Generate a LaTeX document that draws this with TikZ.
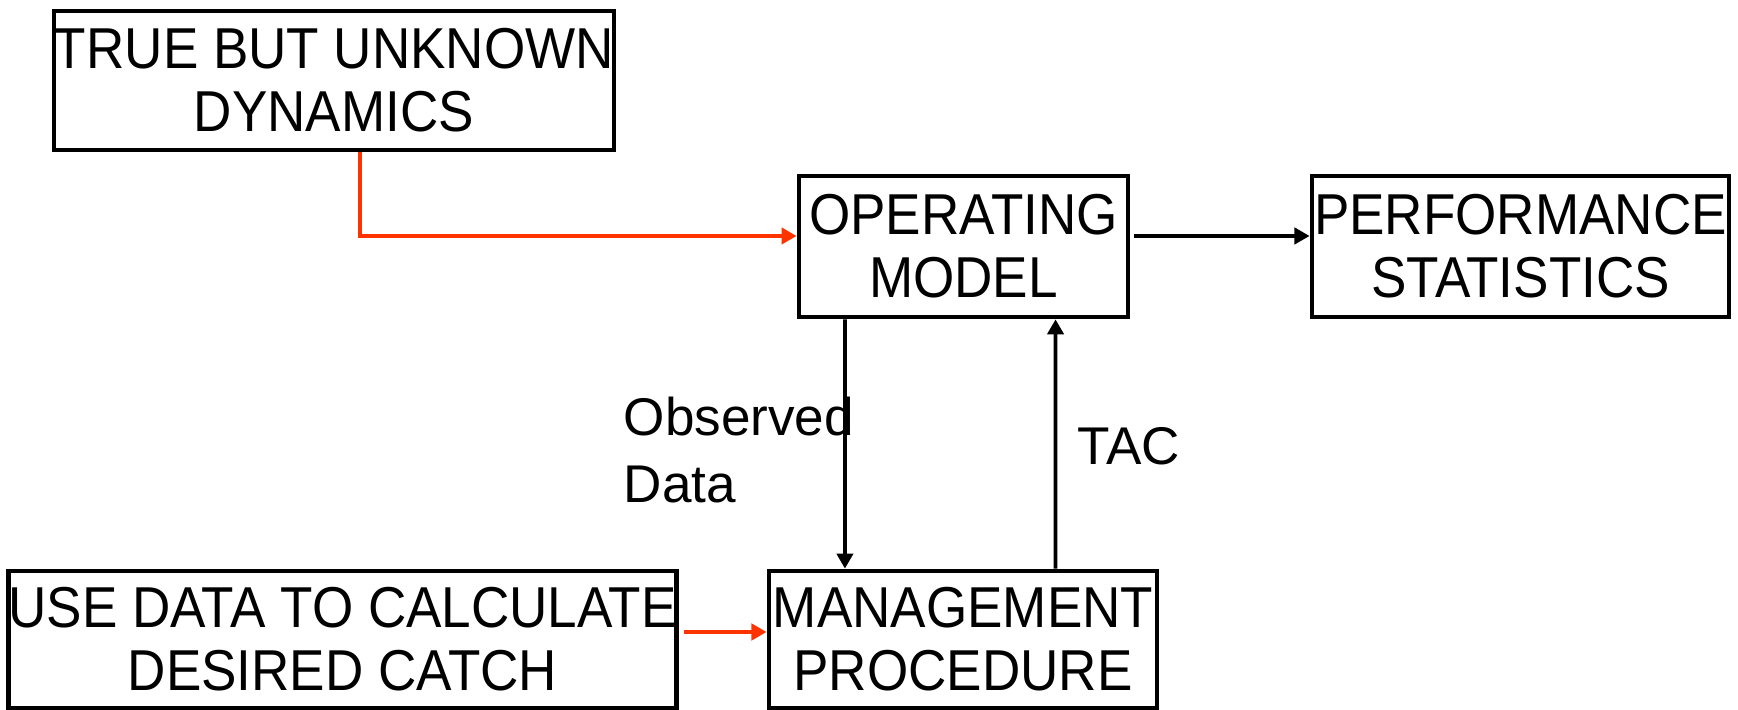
\documentclass[tikz,border=0pt]{standalone}
\usepackage{fontspec}
\setmainfont{Liberation Sans}
\newfontfamily\boxfont[FakeStretch=0.92]{Liberation Sans}
\usetikzlibrary{arrows.meta}
\definecolor{flowred}{RGB}{255,51,0}

\begin{document}
\begin{tikzpicture}[x=0.01cm,y=-0.01cm,
    box/.style={draw,line width=1.3pt,inner sep=0pt,align=center,
      font=\boxfont\fontsize{16.4}{17.9}\selectfont},
    link/.style={line width=1.1pt,-{Triangle[length=4.3pt,width=4.6pt]}},
    redlink/.style={link,flowred},
    tag/.style={inner sep=0pt,align=left,font=\fontsize{15.1}{19.3}\selectfont}]
    \useasboundingbox (0,0) rectangle (1738,710);

    % Top row
    \node [box,minimum width=5.52cm,minimum height=1.39cm] (truth) at (334,80.5)
      {TRUE BUT UNKNOWN\\DYNAMICS};
    \node [box,minimum width=3.29cm,minimum height=1.41cm] (om) at (963.5,246.5)
      {OPERATING\\MODEL};
    \node [box,minimum width=4.17cm,minimum height=1.41cm] (perf) at (1520.5,246.5)
      {PERFORMANCE\\STATISTICS};

    % Bottom row
    \node [box,minimum width=6.61cm,minimum height=1.37cm] (usedata) at (342.5,639.5)
      {USE DATA TO CALCULATE\\DESIRED CATCH};
    \node [box,minimum width=3.88cm,minimum height=1.37cm] (mp) at (963,639.5)
      {MANAGEMENT\\PROCEDURE};

    % Red feeds
    \draw [redlink] ([xshift=0.26cm]truth.south) |- ([yshift=0.105cm]om.west);
    \draw [redlink,shorten <=1.5pt] ([yshift=0.075cm]usedata.east) -- ([yshift=0.075cm]mp.west);

    % Feedback loop
    \draw [link,shorten <=1pt] ([yshift=0.105cm]om.east) -- ([yshift=0.105cm]perf.west);
    \draw [link] ([xshift=-1.185cm]om.south) -- ([xshift=-1.18cm]mp.north);
    \draw [link] ([xshift=0.925cm]mp.north) -- ([xshift=0.92cm]om.south);

    % Arrow labels
    \node [tag,anchor=west] (obs) at (623,450) {Observed\\Data};
    \node [tag,anchor=west] (tac) at (1077,446) {TAC};
\end{tikzpicture}
\end{document}
